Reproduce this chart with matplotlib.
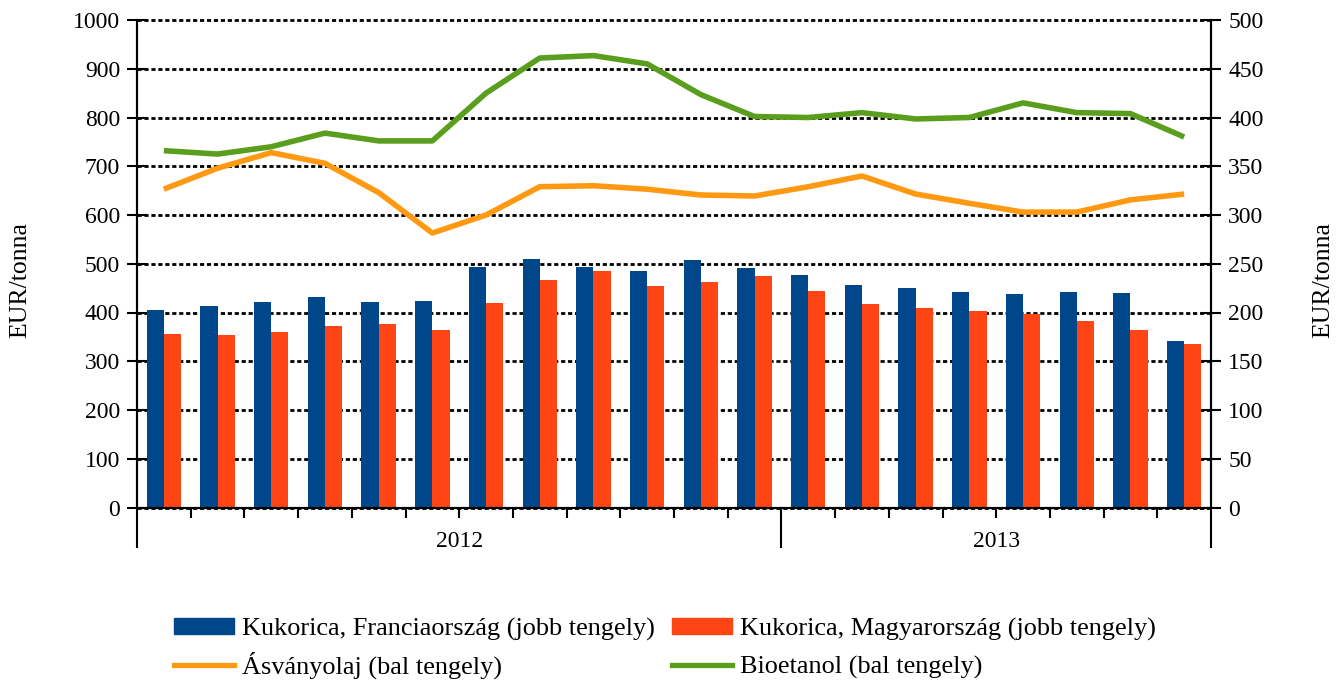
import numpy as np
import matplotlib
matplotlib.use('Agg')
import matplotlib.pyplot as plt
from matplotlib.patches import Patch
from matplotlib.lines import Line2D

plt.rcParams['font.family'] = ['Liberation Serif', 'DejaVu Serif']

# 2012 jan - 2013 aug, havi adatok
years = ['2012', '2013']
months_per_year = [12, 8]

# jobb tengely (EUR/tonna)
kuk_fr = [202.5, 206.5, 211, 216, 211, 212, 247, 255, 247, 243,
          254, 246, 238.5, 228.5, 225.5, 221, 219, 221, 220, 171]
kuk_hu = [178, 177, 180, 186, 188.5, 182, 210, 233.5, 243, 227.5,
          231.5, 237.5, 222, 209, 205, 202, 198.5, 191.5, 182, 168]
# bal tengely (EUR/tonna)
asvanyolaj = [653, 696, 728, 706, 646, 563, 600, 658, 660, 653,
              641, 639, 658, 680, 643, 624, 606, 606, 631, 643]
bioetanol = [732, 725, 740, 768, 752, 752, 850, 922, 927, 910,
             847, 802, 800, 810, 797, 800, 830, 810, 808, 760]

blue = '#00468b'
red = '#ff4513'
orange = '#ff9912'
green = '#5a9e1e'

W, H = 1343, 682
n = len(kuk_fr)
x = np.arange(n)
w = 0.32

fig = plt.figure(figsize=(W/100, H/100), dpi=100)
ax = fig.add_axes([137/W, 1 - 507.5/H, (1211-137)/W, (507.5-20)/H])
ax2 = ax.twinx()

# oszlopok a jobb tengelyen
ax.bar(x - w/2, kuk_fr, w, color=blue, zorder=2)
ax.bar(x + w/2, kuk_hu, w, color=red, zorder=2)
ax.set_ylim(0, 500)
ax.set_yticks(np.arange(0, 501, 50))
ax.set_axisbelow(True)
ax.yaxis.grid(True, color='black', linestyle=(0, (1.5, 1.0)), linewidth=2.0)
for gl in ax.get_ygridlines():
    gl.set_clip_on(False)
ax.yaxis.tick_right()

# vonalak a bal tengelyen
ax2.plot(x, asvanyolaj, color=orange, lw=4, solid_capstyle='butt', solid_joinstyle='round')
ax2.plot(x, bioetanol, color=green, lw=4, solid_capstyle='butt', solid_joinstyle='round')
ax2.set_ylim(0, 1000)
ax2.set_yticks(np.arange(0, 1001, 100))
ax2.yaxis.tick_left()

ax.set_xlim(-0.5, n - 0.5)
for a in (ax, ax2):
    a.spines['top'].set_visible(False)
    for s in ('left', 'right', 'bottom'):
        a.spines[s].set_linewidth(1.5)

ax.tick_params(axis='y', direction='inout', length=14, width=1.5, labelsize=17, pad=5.5)
ax2.tick_params(axis='y', direction='inout', length=14, width=1.5, labelsize=17, pad=5.2)

# x tengely: hosszu jel az evek hataran, rovid a honapok kozott
bounds = np.cumsum([0] + months_per_year) - 0.5
ax.set_xticks(bounds)
ax.set_xticks(np.arange(-0.5, n, 1.0), minor=True)
ax.tick_params(axis='x', which='major', direction='out', length=29, width=1.5, labelbottom=False)
ax.tick_params(axis='x', which='minor', direction='out', length=7.5, width=1.5, labelbottom=False)
ax2.tick_params(axis='x', which='both', length=0, labelbottom=False)

start = 0
for yr, m in zip(years, months_per_year):
    ax.text(start + m/2 - 0.5, -0.07, yr, transform=ax.get_xaxis_transform(),
            ha='center', va='center', fontsize=17)
    start += m

fig.text(20.5/W, 1 - 280/H, 'EUR/tonna', rotation=90, ha='center', va='center', fontsize=18.5)
fig.text(1323/W, 1 - 280/H, 'EUR/tonna', rotation=90, ha='center', va='center', fontsize=18.5)

# jelmagyarazat: soronkent kulon, alsó szélhez igazitva
entries = [
    (Patch(color=blue), 'Kukorica, Franciaország (jobb tengely)', 174, 641),
    (Patch(color=red), 'Kukorica, Magyarország (jobb tengely)', 672, 641),
    (Line2D([], [], color=orange, lw=3.8), 'Ásványolaj (bal tengely)', 174, 679),
    (Line2D([], [], color=green, lw=3.8), 'Bioetanol (bal tengely)', 672, 679),
]
for h, lab, px, py in entries:
    fig.legend([h], [lab], loc='lower left', bbox_to_anchor=(px/W, 1 - py/H),
               frameon=False, fontsize=18.9, handlelength=2.3, handleheight=0.55,
               handletextpad=0.3, borderpad=0, borderaxespad=0)

fig.savefig('out.png', dpi=100)
